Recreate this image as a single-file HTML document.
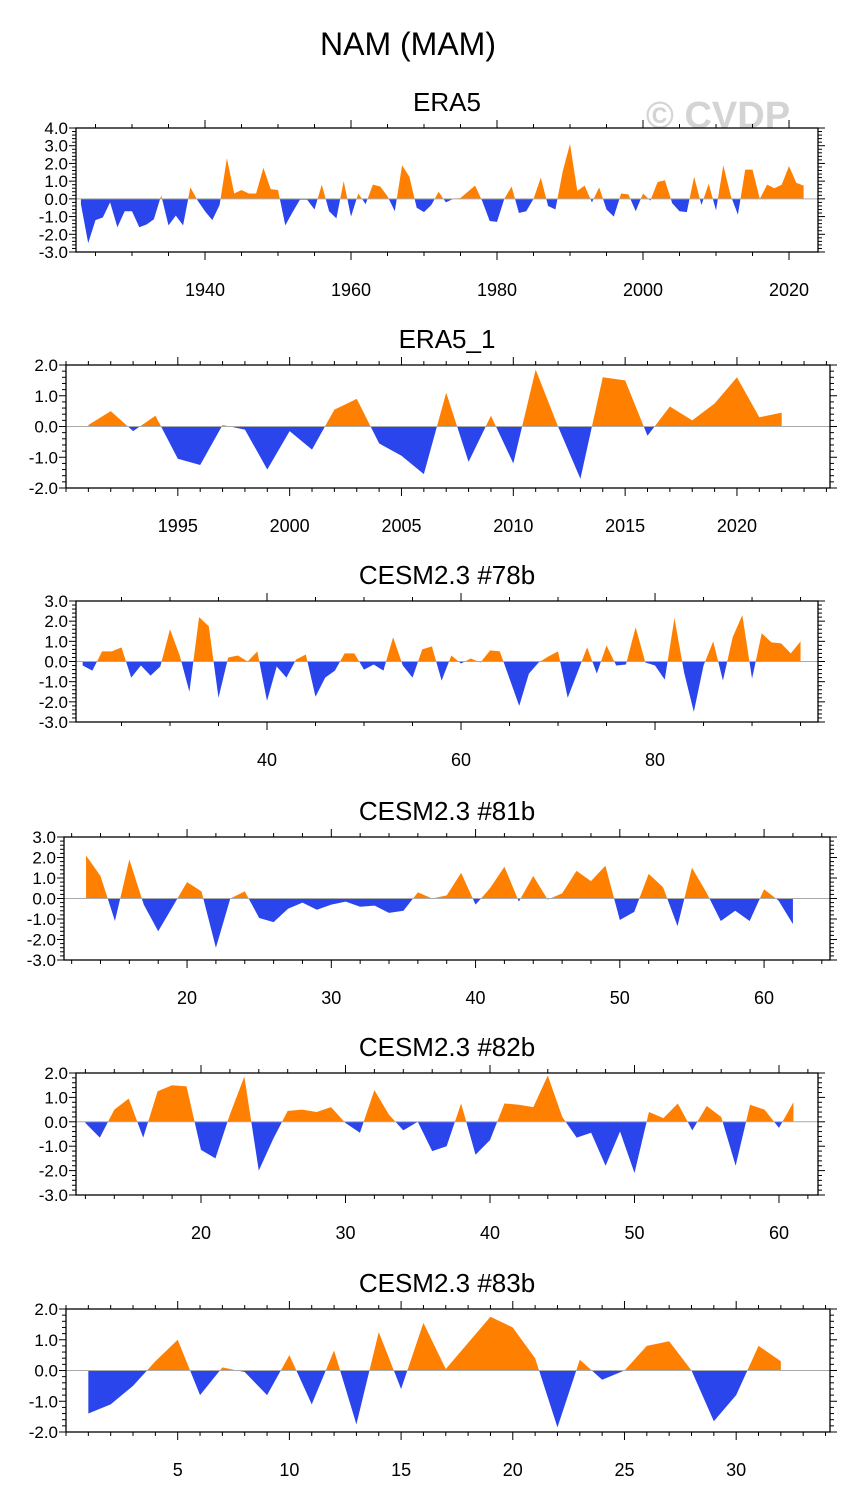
<!DOCTYPE html>
<html><head><meta charset="utf-8"><style>
body{margin:0;background:#fff;}
svg text{font-family:"Liberation Sans",sans-serif;fill:#000;}
</style></head><body>
<svg id="chart" width="845" height="1506" viewBox="0 0 845 1506" xmlns="http://www.w3.org/2000/svg">
<text x="408" y="55" font-size="32" text-anchor="middle">NAM (MAM)</text>
<text x="718" y="128" font-size="38" font-weight="bold" text-anchor="middle" style="fill:#d4d4d4">© CVDP</text>
</svg>
<script>
// ---- data arrays ----
const era5Start = 1923;
const era5Values = [-0.3,-2.5,-1.2,-1.05,-0.2,-1.6,-0.7,-0.7,-1.6,-1.45,-1.15,0.2,-1.5,-0.95,-1.5,0.65,-0.1,-0.7,-1.2,-0.35,
2.3,0.3,0.5,0.3,0.3,1.75,0.55,0.5,-1.5,-0.75,-0.05,-0.05,-0.6,0.8,-0.7,-1.1,1.0,-1.0,0.3,-0.3,
0.8,0.7,0.15,-0.7,1.9,1.25,-0.5,-0.75,-0.35,0.4,-0.2,0.0,0.05,0.4,0.75,-0.15,-1.25,-1.3,0.0,0.7,
-0.8,-0.7,0.0,1.2,-0.4,-0.6,1.55,3.1,0.45,0.75,-0.2,0.65,-0.6,-1.0,0.3,0.25,-0.7,0.3,-0.1,0.95,
1.05,-0.25,-0.7,-0.75,1.25,-0.35,0.85,-0.65,1.9,0.2,-0.9,1.65,1.65,0.0,0.8,0.6,0.8,1.85,0.9,0.75];
const era5_1Start = 1991;
const era5_1Values = [0.05,0.5,-0.15,0.35,-1.05,-1.25,0.05,-0.1,-1.4,-0.15,-0.75,0.55,0.9,-0.55,-0.95,-1.55,1.1,-1.15,0.35,-1.2,
1.85,0.0,-1.7,1.6,1.5,-0.3,0.65,0.2,0.75,1.6,0.3,0.45];
const c78Start = 21;
const c78Values = [-0.2,-0.45,0.5,0.5,0.7,-0.8,-0.2,-0.7,-0.25,1.6,0.3,-1.5,2.2,1.75,-1.8,0.2,0.3,0.0,0.5,-1.95,
-0.25,-0.8,0.1,0.35,-1.75,-0.8,-0.45,0.4,0.4,-0.4,-0.15,-0.45,1.2,-0.2,-0.8,0.6,0.75,-0.95,0.3,-0.1,
0.15,-0.05,0.55,0.5,-0.85,-2.2,-0.6,-0.05,0.25,0.5,-1.8,-0.55,0.7,-0.6,0.8,-0.2,-0.15,1.7,-0.05,-0.2,
-0.9,2.15,-0.55,-2.5,-0.2,1.0,-0.95,1.2,2.3,-0.85,1.4,0.95,0.9,0.4,1.0];
const c81Start = 13;
const c81Values = [2.1,1.1,-1.1,1.9,-0.3,-1.6,-0.4,0.8,0.35,-2.4,0.0,0.35,-0.95,-1.15,-0.5,-0.2,-0.55,-0.3,-0.15,-0.4,
-0.35,-0.7,-0.6,0.3,0.0,0.15,1.25,-0.3,0.5,1.55,-0.15,1.1,-0.05,0.25,1.35,0.85,1.6,-1.05,-0.65,1.2,
0.55,-1.35,1.5,0.3,-1.1,-0.6,-1.1,0.45,-0.1,-1.25];
const c82Start = 12;
const c82Values = [-0.05,-0.65,0.5,0.95,-0.65,1.25,1.5,1.45,-1.15,-1.5,0.3,1.85,-2.0,-0.7,0.45,0.5,0.4,0.6,-0.05,-0.45,
1.3,0.3,-0.35,0.0,-1.2,-1.0,0.75,-1.35,-0.75,0.75,0.7,0.6,1.9,0.2,-0.65,-0.45,-1.8,-0.4,-2.1,0.4,
0.15,0.75,-0.35,0.65,0.2,-1.8,0.7,0.5,-0.25,0.8];
const c83Start = 1;
const c83Values = [-1.4,-1.1,-0.5,0.3,1.0,-0.8,0.1,-0.05,-0.8,0.5,-1.1,0.65,-1.75,1.25,-0.6,1.55,0.05,0.9,1.75,1.4,
0.4,-1.85,0.35,-0.3,0.0,0.8,0.95,0.0,-1.65,-0.8,0.8,0.3];
const era5XTicks = [1940,1960,1980,2000,2020];
const era5_1XTicks = [1995,2000,2005,2010,2015,2020];
const c78XTicks = [40,60,80];
const c81XTicks = [20,30,40,50,60];
const c82XTicks = [20,30,40,50,60];
const c83XTicks = [5,10,15,20,25,30];
const yTicks7 = [4,3,2,1,0,-1,-2,-3];
const yTicks6 = [3,2,1,0,-1,-2,-3];
const yTicks5 = [2,1,0,-1,-2,-3];
const yTicks4 = [2,1,0,-1,-2];

const NS = "http://www.w3.org/2000/svg";
const svg = document.getElementById('chart');
function mk(tag, attrs, parent){const e=document.createElementNS(NS,tag);for(const k in attrs)e.setAttribute(k,attrs[k]);(parent||svg).appendChild(e);return e;}

let clipId = 0;
function panel(cfg){
  const g = mk('g',{});
  
  
  const L=cfg.L,R=cfg.R,T=cfg.T,B=cfg.B;
  const xs = v => L + (v-cfg.x0)/(cfg.x1-cfg.x0)*(R-L);
  const ys = v => B - (v-cfg.y0)/(cfg.y1-cfg.y0)*(B-T);
  const t = mk('text',{x:447,y:T-17,'font-size':26,'text-anchor':'middle'},g);
  t.textContent = cfg.title;
  
  
  const z = ys(0);
  let pts = `${xs(cfg.start)},${z} `;
  cfg.values.forEach((v,i)=>{pts += `${xs(cfg.start+i)},${ys(v)} `;});
  pts += `${xs(cfg.start+cfg.values.length-1)},${z}`;
  const idA='ca'+(clipId++), idB='cb'+(clipId++);
  const defs = mk('defs',{},g);
  const cpA = mk('clipPath',{id:idA},defs); mk('rect',{x:L,y:T-50,width:R-L,height:z-T+50},cpA);
  const cpB = mk('clipPath',{id:idB},defs); mk('rect',{x:L,y:z,width:R-L,height:B-z+50},cpB);
  const pos = mk('polygon',{points:pts,fill:'#ff8000','clip-path':`url(#${idA})`},g);
  
  
  const neg = mk('polygon',{points:pts,fill:'#2a45ec','clip-path':`url(#${idB})`},g);
  
  
  mk('line',{x1:L,x2:R,y1:z,y2:z,stroke:'#aaa','stroke-width':1},g);
  for(let v=cfg.y0; v<=cfg.y1+1e-6; v+=0.2){
    const y=ys(v); const maj=Math.abs(v-Math.round(v))<1e-6;
    const len=maj?7:4;
    mk('line',{x1:L-len,x2:L,y1:y,y2:y,stroke:'#000','stroke-width':1},g);
    mk('line',{x1:R,x2:R+len,y1:y,y2:y,stroke:'#000','stroke-width':1},g);
  }
  cfg.yTicks.forEach(v=>{
    const tx=mk('text',{x:L-8,y:ys(v)+6,'font-size':17,'text-anchor':'end'},g);
    tx.textContent=v.toFixed(1);
    
    
  });
  const step=cfg.minor;
  for(let v=Math.ceil(cfg.x0/step)*step; v<=cfg.x1; v+=step){
    const x=xs(v); const maj=cfg.xTicks.includes(v);
    const len=maj?8:4;
    mk('line',{x1:x,x2:x,y1:B,y2:B+len,stroke:'#000','stroke-width':1},g);
    mk('line',{x1:x,x2:x,y1:T-len,y2:T,stroke:'#000','stroke-width':1},g);
  }
  cfg.xTicks.forEach(v=>{
    const tx=mk('text',{x:xs(v),y:B+44,'font-size':18,'text-anchor':'middle'},g);
    tx.textContent=v;
    
    
  });
  mk('rect',{x:L,y:T,width:R-L,height:B-T,fill:'none',stroke:'#000','stroke-width':1.3},g);
}

panel({name:'era5-panel',title:'ERA5',L:76,R:818,T:128,B:252,x0:1922.33,x1:2023.97,y0:-3,y1:4,start:era5Start,values:era5Values,xTicks:era5XTicks,minor:5,yTicks:yTicks7});
panel({name:'era5-1-panel',title:'ERA5_1',L:66,R:830,T:365,B:488,x0:1990,x1:2024.16,y0:-2,y1:2,start:era5_1Start,values:era5_1Values,xTicks:era5_1XTicks,minor:1,yTicks:yTicks4});
panel({name:'cesm-78b-panel',title:'CESM2.3 #78b',L:76,R:818,T:601,B:722,x0:20.31,x1:96.8,y0:-3,y1:3,start:c78Start,values:c78Values,xTicks:c78XTicks,minor:5,yTicks:yTicks6});
panel({name:'cesm-81b-panel',title:'CESM2.3 #81b',L:64,R:830,T:837,B:960,x0:11.47,x1:64.57,y0:-3,y1:3,start:c81Start,values:c81Values,xTicks:c81XTicks,minor:2,yTicks:yTicks6});
panel({name:'cesm-82b-panel',title:'CESM2.3 #82b',L:76,R:818,T:1073,B:1195,x0:11.35,x1:62.7,y0:-3,y1:2,start:c82Start,values:c82Values,xTicks:c82XTicks,minor:2,yTicks:yTicks5});
panel({name:'cesm-83b-panel',title:'CESM2.3 #83b',L:66,R:830,T:1309,B:1432,x0:0,x1:34.2,y0:-2,y1:2,start:c83Start,values:c83Values,xTicks:c83XTicks,minor:1,yTicks:yTicks4});
</script>
</body></html>
